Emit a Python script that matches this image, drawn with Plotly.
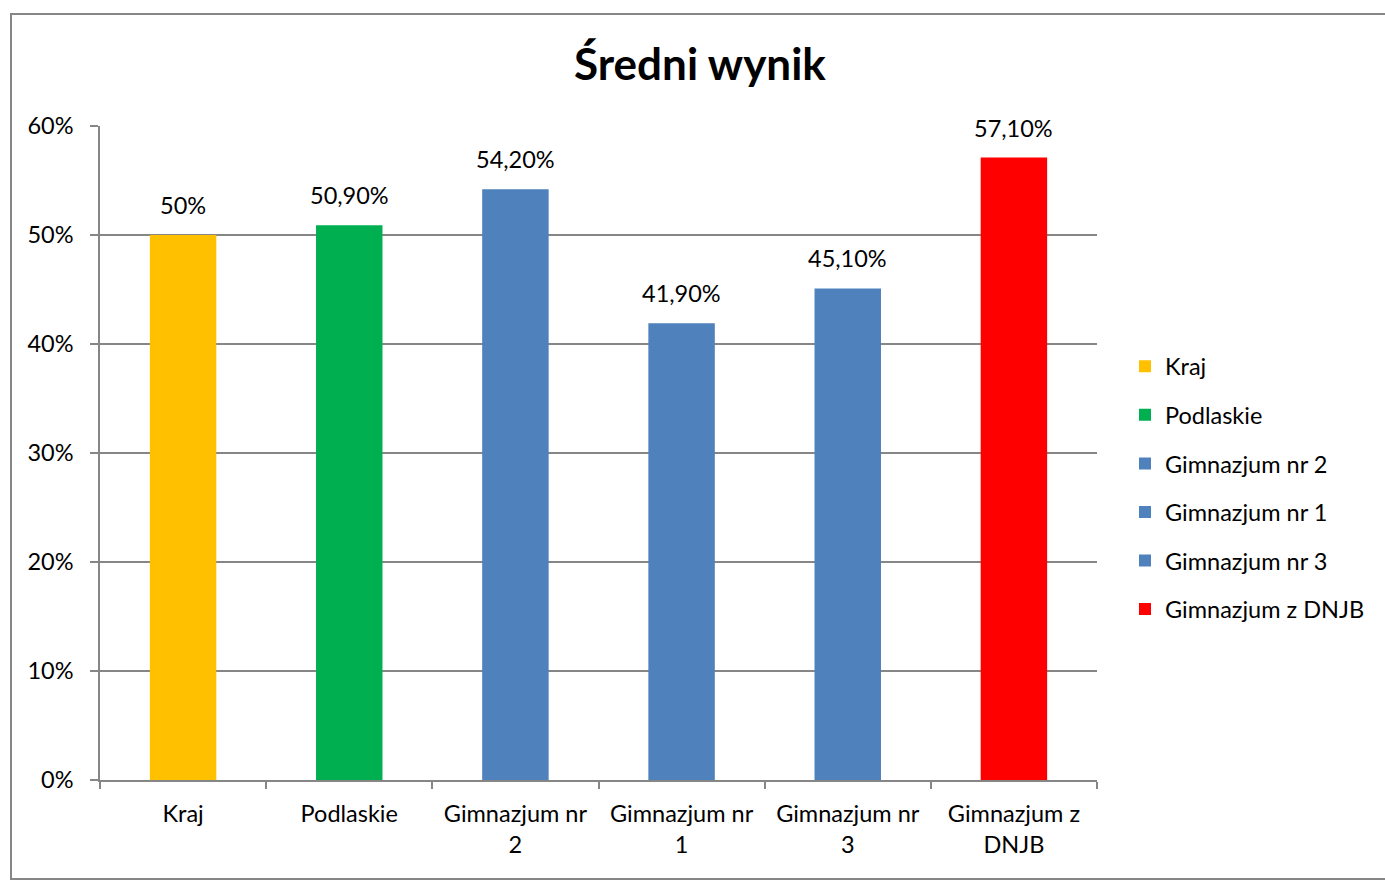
import plotly.graph_objects as go

categories = ["Kraj", "Podlaskie", "Gimnazjum nr 2", "Gimnazjum nr 1", "Gimnazjum nr 3", "Gimnazjum z DNJB"]
tick_labels = ["Kraj", "Podlaskie", "Gimnazjum nr<br>2", "Gimnazjum nr<br>1", "Gimnazjum nr<br>3", "Gimnazjum z<br>DNJB"]
values = [0.50, 0.509, 0.542, 0.419, 0.451, 0.571]
value_labels = ["50%", "50,90%", "54,20%", "41,90%", "45,10%", "57,10%"]
colors = ["#FFC000", "#00B050", "#4F81BD", "#4F81BD", "#4F81BD", "#FF0000"]
y_ticks = [0, 0.1, 0.2, 0.3, 0.4, 0.5, 0.6]
y_tick_labels = ["0%", "10%", "20%", "30%", "40%", "50%", "60%"]

W, H = 1385, 882
L, R, T, B = 100, 288, 126, 102
FONT = "Lato, Open Sans, sans-serif"
FS = 23.5

fig = go.Figure()
for i, (cat, val, col) in enumerate(zip(categories, values, colors)):
    fig.add_trace(go.Bar(
        x=[tick_labels[i]], y=[val], name=cat,
        marker=dict(color=col, line=dict(width=0)),
        width=0.4, offsetgroup="a",
        legendgroup=cat, hoverinfo="x+y",
    ))

for lbl, val, lab in zip(tick_labels, values, value_labels):
    fig.add_annotation(x=lbl, y=val, text=lab, showarrow=False,
                       xanchor="center", yanchor="bottom", yshift=14,
                       font=dict(size=FS, color="#000000", family=FONT))

def px2paper_x(px):
    return (px - L) / (W - L - R)

def px2paper_y(py):
    return (H - B - py) / (H - T - B)

fig.add_shape(type="rect", xref="paper", yref="paper",
              x0=px2paper_x(11), x1=px2paper_x(1400), y0=px2paper_y(879), y1=px2paper_y(14),
              line=dict(color="#868686", width=2), fillcolor="rgba(0,0,0,0)", layer="below")

fig.update_layout(
    width=W, height=H,
    margin=dict(l=L, r=R, t=T, b=B, autoexpand=False),
    paper_bgcolor="white", plot_bgcolor="white",
    barmode="overlay",
    font=dict(family=FONT, size=FS, color="#000000"),
    title=dict(text="<b>Średni wynik</b>", x=700 / W, xanchor="center", y=1 - 65 / H, yanchor="middle",
               font=dict(size=44, family=FONT, color="#000000")),
    showlegend=True,
    legend=dict(x=px2paper_x(1125), xanchor="left", y=px2paper_y(488), yanchor="middle",
                traceorder="grouped", tracegroupgap=15, itemwidth=30,
                font=dict(size=FS, family=FONT, color="#000000"),
                bgcolor="rgba(0,0,0,0)"),
    xaxis=dict(type="category", categoryorder="array", categoryarray=tick_labels,
               showline=True, linecolor="#868686", linewidth=1.5,
               ticks="outside", tickson="boundaries", ticklen=7, tickcolor="#868686", tickwidth=1.5,
               ticklabelstandoff=12,
               showgrid=False, tickfont=dict(size=FS, family=FONT), fixedrange=True),
    yaxis=dict(range=[0, 0.6], tickvals=y_ticks, ticktext=y_tick_labels,
               showline=True, linecolor="#868686", linewidth=1.5,
               ticks="outside", ticklen=8, tickcolor="#868686", tickwidth=1.5,
               ticklabelstandoff=12,
               showgrid=True, gridcolor="#868686", gridwidth=1.5,
               zeroline=False, tickfont=dict(size=FS, family=FONT), fixedrange=True),
)

fig.write_html("out.html", config={"displayModeBar": False},
               post_script="document.body.style.margin='0';document.body.style.overflow='hidden';")
